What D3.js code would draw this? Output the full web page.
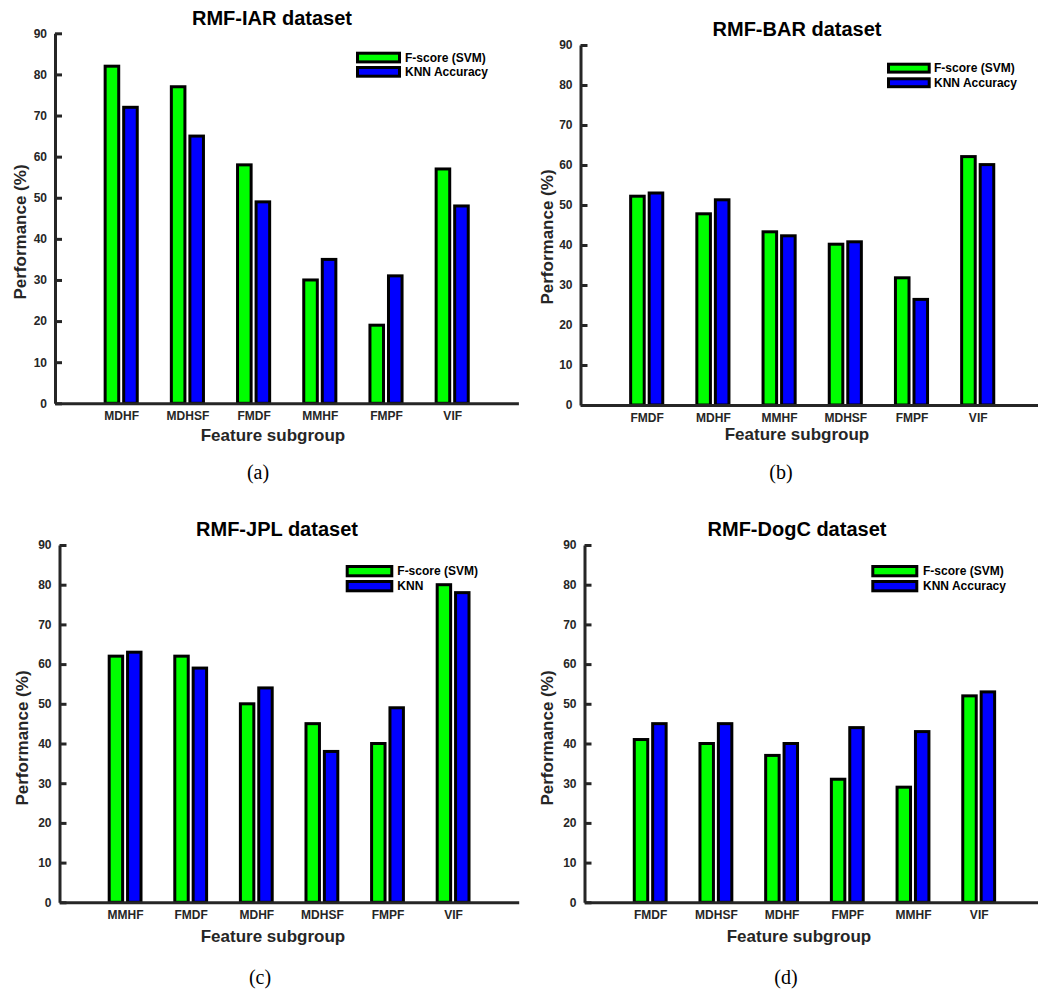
<!DOCTYPE html>
<html>
<head>
<meta charset="utf-8">
<script src="https://cdn.jsdelivr.net/npm/d3@7"></script>
<style>
  html, body { margin: 0; padding: 0; background: #fff; }
  svg { display: block; }
  text { font-family: "Liberation Sans", Arial, Helvetica, sans-serif; }
</style>
</head>
<body>
<svg id="chart" width="1038" height="994"></svg>
<script>
// ---- data ----
const yTicks = [0, 10, 20, 30, 40, 50, 60, 70, 80, 90];
const seriesNames = ["F-score (SVM)", "KNN Accuracy"];
const seriesNamesJPL = ["F-score (SVM)", "KNN"];
const seriesColors = ["#00ff00", "#0000ff"];

const iarCategories = ["MDHF", "MDHSF", "FMDF", "MMHF", "FMPF", "VIF"];
const iarFscore = [82, 77, 58, 30, 19, 57];
const iarKnn = [72, 65, 49, 35, 31, 48];

const barCategories = ["FMDF", "MDHF", "MMHF", "MDHSF", "FMPF", "VIF"];
const barFscore = [52.2, 47.8, 43.3, 40.2, 31.8, 62.1];
const barKnn = [53.0, 51.3, 42.3, 40.8, 26.4, 60.1];

const jplCategories = ["MMHF", "FMDF", "MDHF", "MDHSF", "FMPF", "VIF"];
const jplFscore = [62, 62, 50, 45, 40, 80];
const jplKnn = [63, 59, 54, 38, 49, 78];

const dogCategories = ["FMDF", "MDHSF", "MDHF", "FMPF", "MMHF", "VIF"];
const dogFscore = [41, 40, 37, 31, 29, 52];
const dogKnn = [45, 45, 40, 44, 43, 53];

// ---- layout ----
const panels = [
  { title: "RMF-IAR dataset", cats: iarCategories, s: [iarFscore, iarKnn], names: seriesNames,
    ax: 55, unit: 66.2, yTop: 33.3, yBot: 403.3, titleX: 272, titleY: 25,
    leg: { x: 356, y: 51.7, w: 45, h: 11.7, gap: 14.3, tx: 405 },
    yl: { x: 26, y: 232 }, xl: { x: 273, y: 441 }, cap: "(a)", capX: 258, capY: 479 },
  { title: "RMF-BAR dataset", cats: barCategories, s: [barFscore, barKnn], names: seriesNames,
    ax: 580.5, unit: 66.2, yTop: 45, yBot: 405, titleX: 797, titleY: 36,
    leg: { x: 887, y: 62.7, w: 43.7, h: 10.9, gap: 14.6, tx: 934 },
    yl: { x: 553, y: 237 }, xl: { x: 797, y: 440 }, cap: "(b)", capX: 781, capY: 479 },
  { title: "RMF-JPL dataset", cats: jplCategories, s: [jplFscore, jplKnn], names: seriesNamesJPL,
    ax: 59.5, unit: 65.6, yTop: 545, yBot: 902.3, titleX: 277, titleY: 535.5,
    leg: { x: 345.7, y: 565, w: 47.6, h: 12.3, gap: 15, tx: 397.3 },
    yl: { x: 28, y: 738 }, xl: { x: 273, y: 942 }, cap: "(c)", capX: 260, capY: 984 },
  { title: "RMF-DogC dataset", cats: dogCategories, s: [dogFscore, dogKnn], names: seriesNames,
    ax: 584.5, unit: 65.7, yTop: 545, yBot: 902.3, titleX: 797, titleY: 535.5,
    leg: { x: 871.3, y: 565, w: 47, h: 12.3, gap: 15, tx: 923 },
    yl: { x: 553, y: 738 }, xl: { x: 799, y: 942 }, cap: "(d)", capX: 786, capY: 984 }
];

const svg = d3.select("#chart");
const axisColor = "#262626";

panels.forEach(p => {
  const g = svg.append("g");
  const x = d3.scaleLinear().domain([0, 7]).range([p.ax, p.ax + 7 * p.unit]);
  const y = d3.scaleLinear().domain([0, 90]).range([p.yBot, p.yTop]);

  // bars
  const offs = [-0.14, 0.14];
  const bw = 0.205;
  p.s.forEach((vals, si) => {
    g.append("g").selectAll("rect").data(vals).join("rect")
      .attr("x", (d, i) => x(i + 1 + offs[si] - bw / 2))
      .attr("width", x(bw) - x(0))
      .attr("y", d => y(d))
      .attr("height", d => y(0) - y(d))
      .attr("fill", seriesColors[si])
      .attr("stroke", "#000")
      .attr("stroke-width", 3);
  });

  // y axis
  const yAxis = d3.axisLeft(y).tickValues(yTicks).tickSizeInner(-7).tickSizeOuter(0).tickPadding(8);
  const ya = g.append("g").attr("transform", `translate(${p.ax},0)`).call(yAxis);
  ya.select(".domain").attr("stroke", axisColor).attr("stroke-width", 3);
  ya.selectAll(".tick line").attr("stroke", axisColor).attr("stroke-width", 3);
  ya.selectAll(".tick text").attr("fill", axisColor).style("font-size", "12px").style("font-weight", "bold")
    .style("font-family", "'Liberation Sans', Arial, sans-serif");

  // x axis
  const xAxis = d3.axisBottom(x).tickValues([1, 2, 3, 4, 5, 6]).tickFormat(d => p.cats[d - 1])
    .tickSize(0).tickPadding(8.5);
  const xa = g.append("g").attr("transform", `translate(0,${p.yBot})`).call(xAxis);
  xa.select(".domain").attr("stroke", axisColor).attr("stroke-width", 3);
  xa.selectAll(".tick text").attr("fill", axisColor).style("font-size", "12px").style("font-weight", "bold")
    .style("font-family", "'Liberation Sans', Arial, sans-serif");

  // title
  g.append("text").attr("x", p.titleX).attr("y", p.titleY).attr("text-anchor", "middle")
    .style("font-size", "20px").style("font-weight", "bold").attr("fill", "#000").text(p.title);

  // axis labels
  g.append("text").attr("transform", `translate(${p.yl.x},${p.yl.y}) rotate(-90)`)
    .attr("text-anchor", "middle").style("font-size", "17px").style("font-weight", "bold")
    .attr("fill", axisColor).text("Performance (%)");
  g.append("text").attr("x", p.xl.x).attr("y", p.xl.y).attr("text-anchor", "middle")
    .style("font-size", "17px").style("font-weight", "bold").attr("fill", axisColor).text("Feature subgroup");

  // legend
  const L = p.leg;
  p.names.forEach((n, i) => {
    const ry = L.y + i * L.gap;
    g.append("rect").attr("x", L.x + 1.5).attr("y", ry + 1.5).attr("width", L.w - 3).attr("height", L.h - 3)
      .attr("fill", seriesColors[i]).attr("stroke", "#000").attr("stroke-width", 3);
    g.append("text").attr("x", L.tx).attr("y", ry + L.h / 2 + 4.3)
      .style("font-size", "12px").style("font-weight", "bold").attr("fill", "#000").text(n);
  });

  // caption
  g.append("text").attr("x", p.capX).attr("y", p.capY).attr("text-anchor", "middle")
    .style("font-family", "'Liberation Serif', 'Times New Roman', serif").style("font-size", "20px")
    .attr("fill", "#000").text(p.cap);
});
</script>
</body>
</html>
